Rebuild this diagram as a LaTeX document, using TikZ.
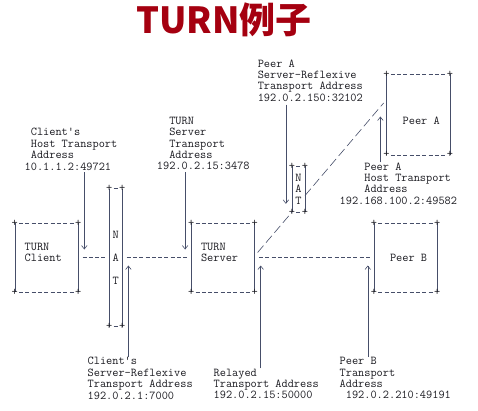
\documentclass[tikz,border=0pt]{standalone}
\usepackage{fontspec}
\usepackage{tikz}
\usetikzlibrary{arrows.meta}

\newfontfamily\titlefont{Noto Sans CJK SC}
\newcommand\asc{\ttfamily\fontsize{12}{11.45}\selectfont}
\definecolor{turnred}{RGB}{165,0,16}
\definecolor{ink}{RGB}{28,28,34}
\definecolor{wire}{RGB}{70,78,105}

\newcommand\asciibox[1]{%
  \draw[vbar] (#1.north west) -- (#1.south west) (#1.north east) -- (#1.south east);
  \draw[hdash] ([xshift=4.3pt]#1.north west) -- ([xshift=-4.3pt]#1.north east)
               ([xshift=4.3pt]#1.south west) -- ([xshift=-4.3pt]#1.south east);
  \foreach \k in {north west,north east,south west,south east}
    \node[cornermark] at (#1.\k) {+};}

\begin{document}
\begin{tikzpicture}[x=1pt,y=-1pt,>={Straight Barb[length=3.5pt,width=5.5pt]},
    vbar/.style={draw=wire,line width=0.6pt},
    hdash/.style={draw=wire,line width=0.6pt,dash pattern=on 4pt off 2.3pt},
    slash/.style={draw=wire,line width=0.6pt,dash pattern=on 9pt off 4pt},
    box/.style={inner sep=0pt,font=\asc,text=ink,align=center},
    host/.style={box,minimum width=63pt,minimum height=68.7pt},
    txt/.style={font=\asc,text=ink,align=left,anchor=north west,inner sep=0pt},
    cornermark/.style={font=\asc,text=ink,inner sep=0pt}]

  \fill[white] (0,0) rectangle (478,410);
  \useasboundingbox (0,0) rectangle (478,410);

  \node[anchor=base,text=turnred,font=\titlefont\bfseries\fontsize{36}{36}\selectfont] (title) at (224,33) {TURN例子};

  \node[host] (client) at (46.5,257.65) {};
  \node[host] (server) at (222.9,257.65) {};
  \node[host] (peerB) at (405.6,257.65) {};
  \node[box,minimum width=63pt,minimum height=80.15pt] (peerA) at (418.2,114.53) {};
  \node[box,minimum width=12.6pt,minimum height=137.4pt] (natC) at (115.8,257.65) {N\\[11.45pt]A\\[11.45pt]T};
  \node[box,minimum width=12.6pt,minimum height=45.8pt] (natA) at (298.5,188.95) {N\\A\\T};

  \asciibox{client}
  \asciibox{server}
  \asciibox{peerB}
  \asciibox{peerA}
  \asciibox{natC}
  \asciibox{natA}

  \node[txt] (clientlbl) at (24.45,242.53) {TURN\\Client};
  \node[txt] (serverlbl) at (200.85,242.53) {TURN\\Server};
  \node[txt] (peerAlbl) at (402.45,116.58) {Peer A};
  \node[txt] (peerBlbl) at (389.85,253.98) {Peer B};

  \node[txt] (peerAsrx) at (257.55,59.33) {Peer A\\Server-Reflexive\\Transport Address\\192.0.2.150:32102};
  \node[txt] (chost) at (24.45,128.03) {\hphantom{0}Client's\\\hphantom{0}Host Transport\\\hphantom{0}Address\\10.1.1.2:49721};
  \node[txt] (srvaddr) at (156.75,116.58) {\hphantom{00}TURN\\\hphantom{00}Server\\\hphantom{00}Transport\\\hphantom{00}Address\\192.0.2.15:3478};
  \node[txt] (peerAhost) at (339.45,162.38) {\hphantom{0000}Peer A\\\hphantom{0000}Host Transport\\\hphantom{0000}Address\\192.168.100.2:49582};
  \node[txt] (csrx) at (87.45,357.03) {Client's\\Server-Reflexive\\Transport Address\\192.0.2.1:7000};
  \node[txt] (relay) at (213.45,368.48) {Relayed\\Transport Address\\192.0.2.15:50000};
  \node[txt] (peerBaddr) at (339.45,357.03) {Peer B\\Transport\\Address\\\hphantom{0}192.0.2.210:49191};

  \coordinate (chostv) at (84.3,249.5);
  \coordinate (srvv) at (185.1,249.5);
  \coordinate (natv) at (285.9,203.8);
  \coordinate (csrxup) at (128.4,265.5);
  \coordinate (relayup) at (260.7,265.5);
  \coordinate (peerBup) at (367.8,265.5);
  \coordinate (peerAup) at (380.4,116.5);
  \coordinate (slantlow) at (257.6,252.5);
  \coordinate (slanttop) at (383.6,103);

  \draw[vbar,->,shorten <=2pt] (chostv |- chost.south) -- (chostv);
  \draw[vbar,->,shorten <=2pt] (srvv |- srvaddr.south) -- (srvv);
  \draw[vbar,->,shorten <=3pt] (natv |- peerAsrx.south) -- (natv);
  \draw[vbar,->] (csrxup |- csrx.north) -- (csrxup);
  \draw[vbar,->] (relayup |- relay.north) -- (relayup);
  \draw[vbar,->] (peerBup |- peerBaddr.north) -- (peerBup);
  \draw[vbar,->] (peerAup |- peerAhost.north) -- (peerAup);

  \draw[hdash] ([xshift=4.3pt]client.east) -- ([xshift=-4.3pt]natC.west);
  \draw[hdash] ([xshift=4.3pt]natC.east) -- ([xshift=-4.3pt]server.west);
  \draw[hdash] ([xshift=4.3pt]server.east) -- ([xshift=-4.3pt]peerB.west);

  \draw[slash] (slantlow) -- (natA.south west);
  \draw[slash] ([yshift=-6.6pt]natA.east) -- (slanttop);
\end{tikzpicture}
\end{document}
